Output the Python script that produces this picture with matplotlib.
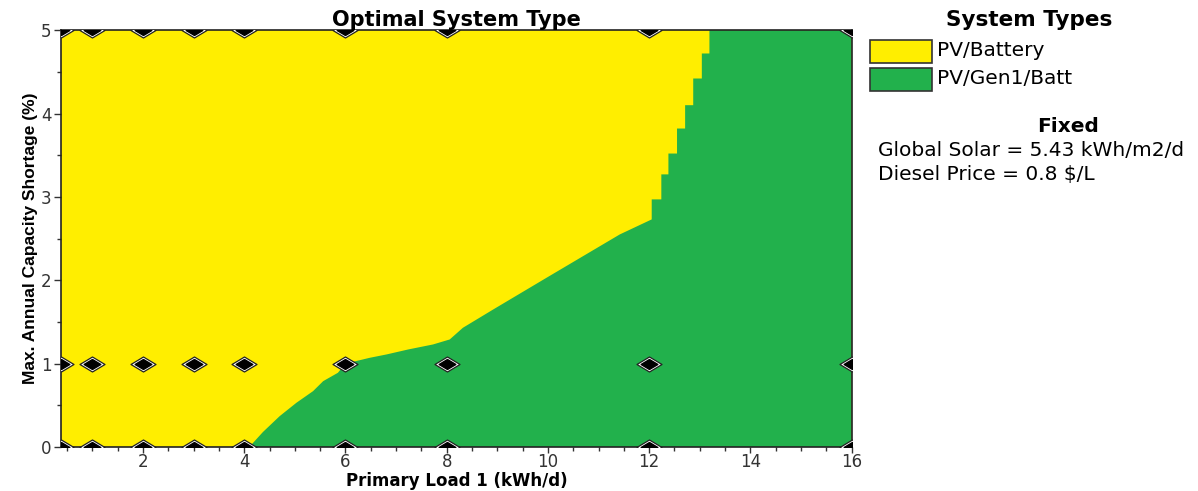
import matplotlib.pyplot as plt
from matplotlib.path import Path
from matplotlib.patches import Rectangle
from matplotlib.ticker import MultipleLocator

plt.rcParams['font.family'] = ['DejaVu Sans']

# sensitivity values (where HOMER actually ran)
loads = [0.38, 1, 2, 3, 4, 6, 8, 12, 16]
shortages = [0, 1, 5]

# boundary between PV/Battery (above/left) and PV/Gen1/Batt (below/right)
bound_x = [4.1, 4.37, 4.7, 5.03, 5.36, 5.56, 5.85, 6.0, 6.48, 6.81, 7.24, 7.73, 8.06, 8.32,
           8.92, 10.0, 11.42, 12.05, 12.05, 12.24, 12.24, 12.38, 12.38, 12.55, 12.55,
           12.71, 12.71, 12.87, 12.87, 13.04, 13.04, 13.19, 13.19]
bound_y = [0.0, 0.18, 0.37, 0.53, 0.67, 0.79, 0.89, 1.0, 1.07, 1.11, 1.17, 1.23, 1.29, 1.43,
           1.65, 2.04, 2.55, 2.73, 2.97, 2.97, 3.27, 3.27, 3.52, 3.52, 3.82,
           3.82, 4.10, 4.10, 4.42, 4.42, 4.72, 4.72, 5.0]

yellow = '#FFEE00'
green = '#22B14C'

fig = plt.figure(figsize=(11.98, 4.91), dpi=100)
ax = fig.add_axes([0.0509, 0.0896, 0.660, 0.849])

x0, x1 = loads[0], loads[-1]
y0, y1 = shortages[0], shortages[-1]
ax.set_xlim(x0, x1)
ax.set_ylim(y0, y1)
ax.set_facecolor(yellow)

gx = bound_x + [x1, x1]
gy = bound_y + [y1, y0]
ax.fill(gx, gy, color=green, lw=0)

diamond = Path([(-1, 0), (0, 0.6), (1, 0), (0, -0.6), (-1, 0)],
               [Path.MOVETO, Path.LINETO, Path.LINETO, Path.LINETO, Path.CLOSEPOLY])
px = [x for y in shortages for x in loads]
py = [y for y in shortages for x in loads]
ax.plot(px, py, ls='none', marker=diamond, ms=18, mfc='white', mec='#222222', mew=0.9, zorder=3)
ax.plot(px, py, ls='none', marker=diamond, ms=12, mfc='black', mec='black', zorder=4)

ax.xaxis.set_major_locator(MultipleLocator(2))
ax.xaxis.set_minor_locator(MultipleLocator(0.5))
ax.yaxis.set_major_locator(MultipleLocator(1))
ax.yaxis.set_minor_locator(MultipleLocator(0.5))
ax.tick_params(which='major', length=5, width=1, labelsize=12, colors='#333333', pad=2)
ax.tick_params(axis='x', which='major', length=4, pad=0)
ax.tick_params(which='minor', length=3, width=1, colors='#333333')
for s in ax.spines.values():
    s.set_linewidth(1.2)
    s.set_color('#222222')

ax.set_title('Optimal System Type', fontsize=15, fontweight='bold', pad=2)
ax.set_xlabel('Primary Load 1 (kWh/d)', fontsize=12, fontweight='bold', va='bottom')
ax.xaxis.set_label_coords(0.5, (447 - 490.5) / 417)
ax.set_ylabel('Max. Annual Capacity Shortage (%)', family='Liberation Sans', fontsize=12.5,
              fontweight='bold', labelpad=2)

# legend block on the right
W, H = 1198, 491
def fx(p): return p / W
def fy(p): return 1 - p / H

fig.text(fx(1029), fy(20), 'System Types', ha='center', va='center', fontsize=15.5, fontweight='bold')
names = ['PV/Battery', 'PV/Gen1/Batt']
cols = [yellow, green]
for i, (nm, c) in enumerate(zip(names, cols)):
    top = 40 + i * 28
    fig.patches.append(Rectangle((fx(870), fy(top + 23)), fx(62), 23 / H, facecolor=c,
                                 edgecolor='#333333', lw=1.2, transform=fig.transFigure))
    fig.text(fx(937), fy(top + 11), nm, ha='left', va='center', fontsize=14.5)

fig.text(fx(1068), fy(127), 'Fixed', ha='center', va='center', fontsize=14.5, fontweight='bold')
fig.text(fx(878), fy(151), 'Global Solar = 5.43 kWh/m2/d', ha='left', va='center', fontsize=14.5)
fig.text(fx(878), fy(174), 'Diesel Price = 0.8 $/L', ha='left', va='center', fontsize=14.5)

fig.savefig('out.png', dpi=100)
